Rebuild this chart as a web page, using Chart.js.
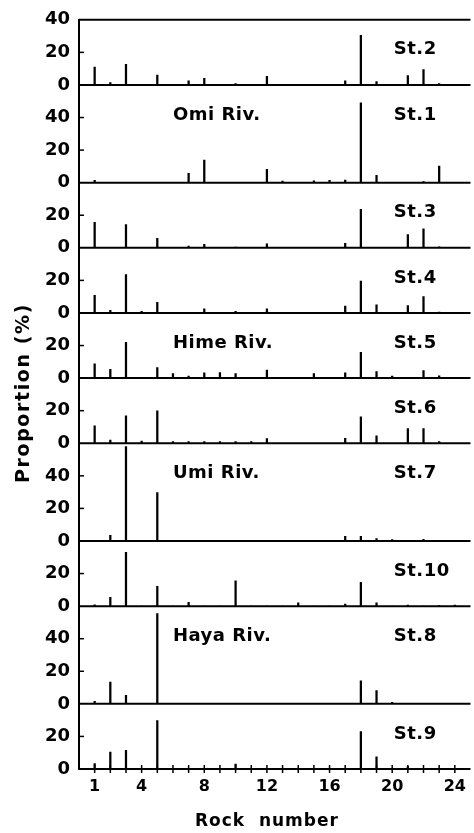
<!DOCTYPE html>
<html>
<head>
<meta charset="utf-8">
<title>Rock composition by station</title>
<script src="https://cdn.jsdelivr.net/npm/chart.js@4.4.1/dist/chart.umd.min.js"></script>
<style>
  html, body { margin: 0; padding: 0; background: #fff; }
  canvas { display: block; }
</style>
</head>
<body>
<canvas id="chart" width="474" height="833"></canvas>
<script>
// Rock numbers on the shared horizontal axis
const rockNumbers = [1, 2, 3, 4, 5, 6, 7, 8, 9, 10, 11, 12, 13, 14, 15, 16, 17, 18, 19, 20, 21, 22, 23, 24];
const xTickLabels = [1, 4, 8, 12, 16, 20, 24];
const yTickLabels = [0, 20, 40, 60];

// Proportion (%) of each rock number, rock 1 .. 24, per station
const st2  = [11, 1.5, 12.6, 0, 6, 0, 2.5, 4, 0, 0.8, 0, 5.3, 0, 0, 0, 0, 2.5, 30.5, 2, 0, 5.7, 9.5, 0.8, 0];
const st1  = [1.4, 0, 0, 0, 0, 0, 5.7, 13.9, 0, 0, 0, 8.2, 1, 0, 1.2, 1.4, 1.6, 49, 4.5, 0, 0, 0.6, 10.2, 0];
const st3  = [15.6, 0, 14.3, 0, 5.9, 0, 1, 2.2, 0, 0.4, 0, 2.4, 0, 0, 0, 0, 2.8, 23.6, 0, 0, 8.1, 11.7, 0.6, 0];
const st4  = [10.8, 1.6, 23.6, 1, 6.6, 0, 0, 2.6, 0, 1, 0, 2.6, 0, 0, 0, 0, 4.2, 19.6, 5, 0, 4.6, 10, 0.6, 0];
const st5  = [8.8, 5.4, 22, 0, 6.4, 2.8, 1.2, 3.2, 3.4, 2.8, 0, 5, 0, 0, 2.8, 0, 3.2, 15.8, 4, 1.2, 0, 4.6, 1.4, 0];
const st6  = [10.7, 2, 16.9, 1.4, 19.9, 1, 1, 1, 1, 1, 1, 2.8, 0, 0, 0, 0, 3, 16.2, 4.5, 0, 9, 9, 1, 0];
const st7  = [0, 3.4, 58, 0, 29.7, 0, 0, 0, 0, 0, 0, 0, 0, 0, 0, 0, 2.8, 2.8, 1.4, 0.8, 0, 1, 0, 0];
const st10 = [0.8, 5.4, 33, 0, 12.2, 0, 2.3, 0, 0, 15.5, 0, 0, 0, 2.1, 0, 0, 1.2, 14.6, 2.1, 0, 0.6, 0, 0.4, 0.6];
const st8  = [1.6, 13.3, 5.2, 0, 55.5, 0, 0, 0, 0, 0, 0, 0, 0, 0, 0, 0, 0, 14.1, 8.2, 1, 0, 0, 0, 0];
const st9  = [3.4, 10.4, 11.4, 0, 29.8, 0, 0, 0, 0, 3, 0, 0, 0, 0, 0, 0, 0, 23, 7.4, 0, 1.5, 0, 0, 0];

// Panels from top to bottom
const panels = [
  { name: 'St.2',  river: '',          values: st2,  max: 40 },
  { name: 'St.1',  river: 'Omi Riv.',  values: st1,  max: 60 },
  { name: 'St.3',  river: '',          values: st3,  max: 40 },
  { name: 'St.4',  river: '',          values: st4,  max: 40 },
  { name: 'St.5',  river: 'Hime Riv.', values: st5,  max: 40 },
  { name: 'St.6',  river: '',          values: st6,  max: 40 },
  { name: 'St.7',  river: 'Umi Riv.',  values: st7,  max: 60 },
  { name: 'St.10', river: '',          values: st10, max: 40 },
  { name: 'St.8',  river: 'Haya Riv.', values: st8,  max: 60 },
  { name: 'St.9',  river: '',          values: st9,  max: 40 }
];

const FONT = "'DejaVu Sans', 'Liberation Sans', sans-serif";
Chart.defaults.font.family = FONT;
Chart.defaults.font.weight = 'bold';
Chart.defaults.color = '#000';

const datasets = panels.map((p, i) => ({
  label: p.name,
  data: rockNumbers.map((r, k) => ({ x: r, y: p.values[k] })),
  yAxisID: 'y' + i,
  backgroundColor: '#000',
  borderWidth: 0,
  barThickness: 1.6,
  grouped: false
}));

const scales = {
  x: {
    type: 'linear',
    position: 'bottom',
    min: 0,
    max: 25,
    offset: false,
    grid: { display: false, drawTicks: false, offset: false },
    border: { display: false },
    afterBuildTicks: s => { s.ticks = xTickLabels.map(v => ({ value: v })); },
    ticks: {
      padding: 8,
      autoSkip: false,
      maxRotation: 0,
      callback: v => String(v),
      font: { size: 16, weight: 'bold' },
      color: '#000'
    },
    afterFit: s => { s.height = 64; }
  }
};

panels.forEach((p, i) => {
  scales['y' + i] = {
    type: 'linear',
    position: 'left',
    stack: 'stations',
    stackWeight: p.max,
    weight: panels.length - i,
    min: 0,
    max: p.max,
    afterBuildTicks: s => { s.ticks = yTickLabels.filter(v => v <= p.max).map(v => ({ value: v })); },
    ticks: {
      autoSkip: false,
      callback: v => (v === p.max && i > 0) ? '' : String(v),
      padding: 9,
      font: { size: 18, weight: 'bold' },
      color: '#000'
    },
    grid: { drawOnChartArea: false, drawTicks: false },
    border: { display: true, color: '#000', width: 2 },
    afterFit: s => { s.width = 36; }
  };
});

// Baselines, inward tick marks, station / river names and axis titles
const frameAndLabels = {
  id: 'frameAndLabels',
  afterDatasetsDraw(chart) {
    const { ctx, chartArea, scales: sc } = chart;
    const line = (x1, y1, x2, y2) => { ctx.beginPath(); ctx.moveTo(x1, y1); ctx.lineTo(x2, y2); ctx.stroke(); };
    ctx.save();
    ctx.strokeStyle = '#000';
    ctx.lineWidth = 2;

    panels.forEach((p, i) => {
      const ys = sc['y' + i];
      const y0 = ys.getPixelForValue(0);
      line(chartArea.left, y0, chartArea.right, y0);
      if (i === 0) {
        const yt = ys.getPixelForValue(p.max);
        line(chartArea.left, yt, chartArea.right, yt);
      }
    });

    // y ticks pointing into each panel
    ctx.lineWidth = 1.5;
    panels.forEach((p, i) => {
      const ys = sc['y' + i];
      yTickLabels.filter(v => v > 0 && v < p.max).forEach(v => {
        const y = ys.getPixelForValue(v);
        line(chartArea.left, y, chartArea.left + 5, y);
      });
    });

    // ticks across the bottom axis, one per rock number
    const yb = sc['y' + (panels.length - 1)].getPixelForValue(0);
    rockNumbers.forEach(r => {
      const x = sc.x.getPixelForValue(r);
      line(x, yb + 4, x, yb - 4);
    });

    ctx.fillStyle = '#000';
    ctx.font = 'bold 18px ' + FONT;
    ctx.textAlign = 'left';
    ctx.textBaseline = 'alphabetic';
    ctx.letterSpacing = '0.5px';
    panels.forEach((p, i) => {
      const ys = sc['y' + i];
      const yc = ys.getPixelForValue(p.max === 60 ? 43 : 23) + 7;
      ctx.fillText(p.name, sc.x.getPixelForValue(20.1), yc);
      if (p.river) ctx.fillText(p.river, sc.x.getPixelForValue(6.0), yc);
    });

    // axis titles
    ctx.textAlign = 'center';
    ctx.textBaseline = 'middle';
    ctx.font = 'bold 17px ' + FONT;
    ctx.letterSpacing = '1px';
    ctx.fillText('Rock  number', sc.x.getPixelForValue(12), 822);

    ctx.font = 'bold 19px ' + FONT;
    ctx.letterSpacing = '1.6px';
    ctx.translate(24, 393);
    ctx.rotate(-Math.PI / 2);
    ctx.fillText('Proportion (%)', 0, 0);
    ctx.restore();
  }
};

new Chart(document.getElementById('chart'), {
  type: 'bar',
  data: { datasets },
  options: {
    responsive: false,
    animation: false,
    layout: { padding: { left: 43, right: 1, top: 19, bottom: 0 } },
    plugins: { legend: { display: false }, tooltip: { enabled: false } },
    scales
  },
  plugins: [frameAndLabels]
});
</script>
</body>
</html>
